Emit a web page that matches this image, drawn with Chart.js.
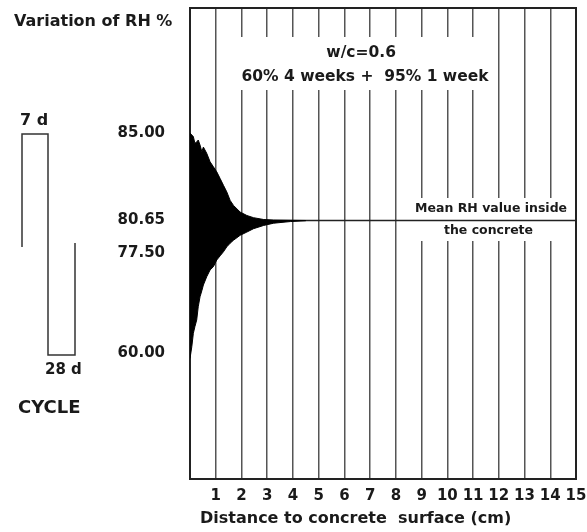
<!DOCTYPE html>
<html>
<head>
<meta charset="utf-8">
<script src="https://cdn.jsdelivr.net/npm/chart.js@4/dist/chart.umd.min.js"></script>
<style>
  html, body { margin: 0; padding: 0; background: #fff; }
</style>
</head>
<body>
<canvas id="chart" width="587" height="532"></canvas>
<script>
// distance to the concrete surface (cm) and the RH envelope
const distance = [0, 0.07, 0.13, 0.19, 0.26, 0.32, 0.39, 0.46, 0.52, 0.65, 0.78, 0.91, 1.04, 1.17, 1.3, 1.43, 1.56, 1.69, 1.95, 2.21, 2.47, 2.86, 3.25, 3.9, 4.5];
const upperRH  = [85.0, 84.9, 84.82, 84.49, 84.55, 84.65, 84.4, 84.07, 84.3, 83.99, 83.57, 83.32, 83.07, 82.74, 82.4, 82.07, 81.65, 81.4, 81.07, 80.9, 80.79, 80.7, 80.67, 80.66, 80.65];
const lowerRH  = [59.35, 61.1, 63.45, 64.6, 65.77, 68.1, 69.85, 70.9, 71.9, 73.35, 74.53, 75.11, 76.28, 77.0, 77.62, 78.1, 78.45, 78.74, 79.22, 79.53, 79.86, 80.17, 80.39, 80.55, 80.63];
const meanRH = 80.65;
const meanRange = [0, 15];

const xTickLabels = ['', '1', '2', '3', '4', '5', '6', '7', '8', '9', '10', '11', '12', '13', '14', '15'];
const yTickValues = [60, 77.5, 80.65, 85];
const yTickLabels = ['60.00', '77.50', '80.65', '85.00'];

const ink = '#1a1a1a';
Chart.defaults.font.family = '"DejaVu Sans", "Liberation Sans", Arial, sans-serif';
Chart.defaults.font.weight = 'bold';
Chart.defaults.color = ink;

// the RH axis of the figure is schematic (not linear), so map it piecewise
const yStops = [45, 60, 77.5, 80.65, 85, 100];
const yStopPos = [0, 0.2675, 0.4798, 0.5488, 0.7346, 1];
function interp(v, xs, ys) {
  let i = 1;
  while (i < xs.length - 1 && v > xs[i]) i++;
  return ys[i - 1] + (v - xs[i - 1]) * (ys[i] - ys[i - 1]) / (xs[i] - xs[i - 1]);
}
class SchematicScale extends Chart.LinearScale {
  getPixelForValue(v) { return this.getPixelForDecimal(interp(v, yStops, yStopPos)); }
  getValueForPixel(p) { return interp(this.getDecimalForPixel(p), yStopPos, yStops); }
}
SchematicScale.id = 'schematic';
SchematicScale.defaults = {};
Chart.register(SchematicScale);

const pts = (ys) => distance.map((d, i) => ({x: d, y: ys[i]}));

const annotations = {
  id: 'annotations',
  beforeDatasetsDraw(chart) {
    const {ctx, chartArea: a, scales: {x}} = chart;
    ctx.save();
    // gaps in the grid behind the labels
    ctx.fillStyle = '#fff';
    ctx.fillRect(x.getPixelForValue(1.5), 37, x.getPixelForValue(11.5) - x.getPixelForValue(1.5), 53);
    ctx.fillRect(x.getPixelForValue(8.5), 198, x.getPixelForValue(14.5) - x.getPixelForValue(8.5), 43);
    ctx.strokeStyle = '#222';
    ctx.lineWidth = 2;
    ctx.strokeRect(a.left, a.top, a.width, a.height);
    ctx.restore();
  },
  afterDraw(chart) {
    const {ctx, scales: {x}} = chart;
    const font = (s) => 'bold ' + s + 'px "DejaVu Sans", Arial, sans-serif';
    ctx.save();
    ctx.fillStyle = ink;
    ctx.textBaseline = 'middle';

    ctx.textAlign = 'left';
    ctx.font = font(16);
    ctx.fillText('Variation of RH %', 14, 22);
    ctx.fillText('7 d', 20, 121);
    // x axis title sits a little right of the axis start
    ctx.fillText('Distance to concrete  surface (cm)', x.left + 10, 519);
    ctx.font = font(15);
    ctx.fillText('28 d', 45, 370);
    ctx.font = font(18);
    ctx.fillText('CYCLE', 18, 408);

    ctx.textAlign = 'center';
    ctx.font = font(15.5);
    ctx.fillText('w/c=0.6', x.getPixelForValue(6.65), 53);
    ctx.fillText('60% 4 weeks +  95% 1 week', x.getPixelForValue(6.8), 77);
    ctx.font = font(12.5);
    ctx.fillText('Mean RH value inside', x.getPixelForValue(11.7), 209);
    ctx.fillText('the concrete', x.getPixelForValue(11.6), 231);

    // wetting/drying cycle sketch
    ctx.strokeStyle = '#333';
    ctx.lineWidth = 1.5;
    ctx.beginPath();
    ctx.moveTo(22, 247); ctx.lineTo(22, 134); ctx.lineTo(48, 134);
    ctx.lineTo(48, 355); ctx.lineTo(75, 355); ctx.lineTo(75, 243);
    ctx.stroke();
    ctx.restore();
  }
};

new Chart(document.getElementById('chart'), {
  type: 'line',
  data: {
    datasets: [
      {
        label: 'Upper RH',
        data: pts(upperRH),
        borderColor: '#000',
        backgroundColor: '#000',
        borderWidth: 1,
        pointRadius: 0,
        fill: '+1'
      },
      {
        label: 'Lower RH',
        data: pts(lowerRH),
        borderColor: '#000',
        borderWidth: 1,
        pointRadius: 0,
        fill: false
      },
      {
        label: 'Mean RH',
        data: meanRange.map(d => ({x: d, y: meanRH})),
        borderColor: '#222',
        borderWidth: 1.5,
        pointRadius: 0,
        fill: false
      }
    ]
  },
  options: {
    responsive: false,
    animation: false,
    layout: {padding: {top: 8, right: 11, left: 0, bottom: 0}},
    plugins: {legend: {display: false}, tooltip: {enabled: false}},
    scales: {
      x: {
        type: 'linear',
        min: 0,
        max: 15,
        grid: {color: '#555', lineWidth: 1.5, drawTicks: false},
        border: {display: false},
        ticks: {
          stepSize: 1,
          autoSkip: false,
          maxRotation: 0,
          padding: 8,
          font: {size: 15, weight: 'bold'},
          callback: (v, i) => xTickLabels[i]
        },
        afterFit: (s) => { s.height = 53; s.paddingLeft = 0; s.paddingRight = 0; }
      },
      y: {
        type: 'schematic',
        min: 45,
        max: 100,
        grid: {display: false, drawTicks: false},
        border: {display: false},
        afterBuildTicks: (s) => { s.ticks = yTickValues.map(v => ({value: v})); },
        ticks: {
          autoSkip: false,
          padding: 25,
          font: {size: 15, weight: 'bold'},
          callback: (v, i) => yTickLabels[i]
        },
        afterFit: (s) => { s.width = 190; s.paddingTop = 0; s.paddingBottom = 0; }
      }
    }
  },
  plugins: [annotations]
});
</script>
</body>
</html>
